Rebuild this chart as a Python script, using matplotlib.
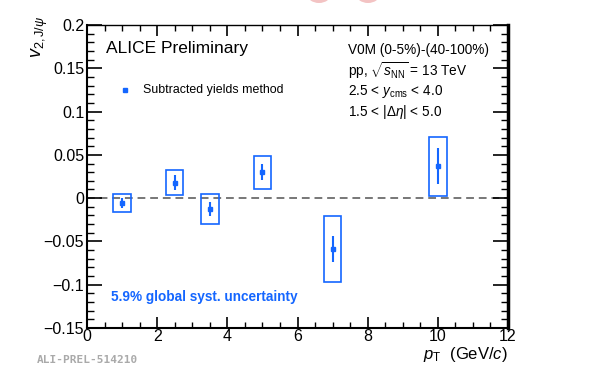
import matplotlib
matplotlib.use("Agg")
import matplotlib.pyplot as plt
from matplotlib.patches import Rectangle, Ellipse
from matplotlib.ticker import MultipleLocator, FixedLocator
import numpy as np

plt.rcParams['font.family'] = ['Liberation Sans', 'DejaVu Sans']
plt.rcParams['mathtext.fontset'] = 'custom'
plt.rcParams['mathtext.rm'] = 'Liberation Sans'
plt.rcParams['mathtext.it'] = 'Liberation Sans:italic'
plt.rcParams['mathtext.bf'] = 'Liberation Sans:bold'

# J/psi v2 vs pT, subtracted yields method
pt = [1.0, 2.5, 3.5, 5.0, 7.0, 10.0]
v2 = [-0.0055, 0.018, -0.0125, 0.030, -0.059, 0.037]
stat = [0.006, 0.009, 0.0085, 0.009, 0.015, 0.021]
syst = [0.010, 0.014, 0.017, 0.019, 0.038, 0.034]
box_halfwidth = 0.25

ytick_vals = [-0.15, -0.1, -0.05, 0, 0.05, 0.1, 0.15, 0.2]
ytick_labels = ["\u22120.15", "\u22120.1", "\u22120.05", "0", "0.05", "0.1", "0.15", "0.2"]

blue = '#1466ff'

W, H = 611, 378
fig = plt.figure(figsize=(W / 100, H / 100), dpi=100)
ax = fig.add_axes([87 / W, 1 - 328 / H, 421 / W, 303 / H])

ax.set_xlim(0, 12)
ax.set_ylim(-0.15, 0.2)

# zero line
ax.axhline(0, color='#777777', lw=1.4, ls=(0, (4, 2.5)), zorder=1)

# systematic boxes
for x, y, s in zip(pt, v2, syst):
    ax.add_patch(Rectangle((x - box_halfwidth, y - s), 2 * box_halfwidth, 2 * s,
                           fill=False, ec=blue, lw=1.2, zorder=3))

# stat errors + markers
ax.errorbar(pt, v2, yerr=stat, fmt='s', color=blue, ms=3.5, elinewidth=1.5,
            capsize=0, zorder=4)

ax.xaxis.set_major_locator(MultipleLocator(2))
ax.xaxis.set_minor_locator(MultipleLocator(0.5))
ax.yaxis.set_major_locator(FixedLocator(ytick_vals))
ax.yaxis.set_minor_locator(MultipleLocator(0.01))
ax.set_yticklabels(ytick_labels)
ax.tick_params(which='both', direction='in', top=True, right=True, labelsize=11.5,
               color='black')
ax.tick_params(axis='x', which='major', length=8, width=1.2, pad=0.5)
ax.tick_params(axis='x', which='minor', length=4, width=1.0)
ax.tick_params(axis='y', which='major', length=11, width=1.2, pad=2)
ax.tick_params(axis='y', which='minor', length=5, width=1.0)

for side in ['left', 'bottom']:
    ax.spines[side].set_linewidth(1.5)
ax.spines['right'].set_linewidth(2.5)
ax.spines['top'].set_linewidth(1.0)

# text labels
ax.text(0.045, 0.924, "ALICE Preliminary", transform=ax.transAxes, fontsize=12.5,
        va='center', ha='left')
ax.plot([0.090], [0.785], 's', color=blue, ms=3.5, transform=ax.transAxes)
ax.text(0.133, 0.785, "Subtracted yields method", transform=ax.transAxes,
        fontsize=8.9, va='center', ha='left')

info = ["V0M (0-5%)-(40-100%)",
        r"pp, $\sqrt{s_{\mathrm{NN}}}$ = 13 TeV",
        r"2.5 < $y_{\mathrm{cms}}$ < 4.0",
        r"1.5 < |$\Delta\eta$| < 5.0"]
info_y = [0.917, 0.848, 0.779, 0.713]
for t, yy in zip(info, info_y):
    ax.text(0.62, yy, t, transform=ax.transAxes, fontsize=9.8, va='center', ha='left')

ax.text(0.057, 0.102, "5.9% global syst. uncertainty", transform=ax.transAxes,
        fontsize=9.8, fontweight='bold', color=blue, va='center', ha='left')

fig.text(40 / W, 1 - 16 / H, r"$v_{2,\mathrm{J}/\psi}$", rotation=90, fontsize=13,
         va='top', ha='center')
fig.text(508 / W, 1 - 355 / H, r"$p_{\mathrm{T}}$  (GeV/$c$)", fontsize=12,
         va='center', ha='right')
fig.text(37 / W, 1 - 360 / H, "ALI-PREL-514210", fontsize=8, color='#aaaaaa',
         family='DejaVu Sans Mono', fontweight='bold', va='center', ha='left')

# logo edges peeking in at the top
for cx in [319, 368]:
    fig.patches.append(Ellipse((cx / W, 1 + 6 / H), 24 / W, 18 / H,
                               transform=fig.transFigure, fc='#f0b4b4',
                               ec='none', alpha=0.8))

fig.savefig("out.png", dpi=100)
